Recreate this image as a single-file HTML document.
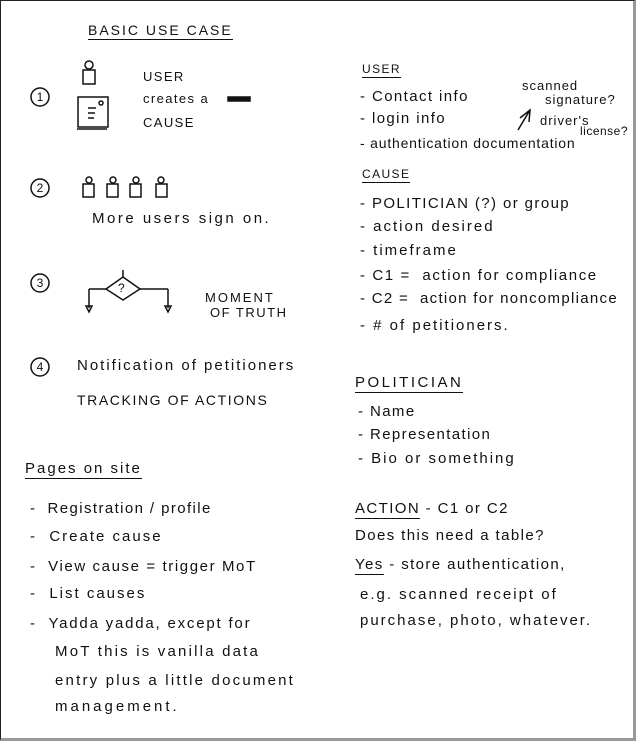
<!DOCTYPE html>
<html><head><meta charset="utf-8"><style>
body{margin:0;width:640px;height:745px;background:#fff;position:relative;overflow:hidden;font-family:"Liberation Sans",sans-serif;color:#111}
.frame{position:absolute;left:0;top:0;width:636px;height:741px;border:1px solid #222;border-right:3px solid #999;border-bottom:3px solid #999;box-sizing:border-box}
.t{position:absolute;font-size:15px;white-space:nowrap;letter-spacing:1.4px}
.u{border-bottom:1.5px solid #111;padding-bottom:1px}
.n{position:absolute;font-size:12px;width:18px;text-align:center}
svg{position:absolute;left:0;top:0}
</style></head><body>
<div class="frame"></div>
<svg width="640" height="745" fill="none" stroke="#111" stroke-width="1.5">
<circle cx="40" cy="97" r="9"/><circle cx="40" cy="188" r="9"/><circle cx="40" cy="283" r="9"/><circle cx="40" cy="367" r="9"/>
<circle cx="89" cy="65" r="4"/><rect x="83" y="70" width="12" height="14"/>
<rect x="78" y="97" width="30" height="30"/><line x1="77" y1="129" x2="107" y2="129"/>
<circle cx="101" cy="103" r="2"/><line x1="88" y1="108" x2="96" y2="108"/><line x1="88" y1="113" x2="95" y2="113"/><line x1="88" y1="118" x2="94" y2="118"/>
<circle cx="89" cy="180" r="3"/><rect x="83" y="184" width="11" height="13"/>
<circle cx="113" cy="180" r="3"/><rect x="107" y="184" width="11" height="13"/>
<circle cx="136" cy="180" r="3"/><rect x="130" y="184" width="11" height="13"/>
<circle cx="161" cy="180" r="3"/><rect x="156" y="184" width="11" height="13"/>
<polygon points="123,277 140,289 123,300 106,289"/><line x1="123" y1="270" x2="123" y2="277"/>
<line x1="106" y1="289" x2="89" y2="289"/><line x1="89" y1="289" x2="89" y2="308"/>
<line x1="140" y1="289" x2="168" y2="289"/><line x1="168" y1="289" x2="168" y2="308"/>
<polygon points="86,306 92,306 89,312"/><polygon points="165,306 171,306 168,312"/>
<line x1="518" y1="130" x2="530" y2="110"/><polyline points="520,118 530,110 529,122"/>
<rect x="228" y="97" width="22" height="4" fill="#111"/>
</svg>
<div class="n" style="left:31px;top:90px">1</div>
<div class="n" style="left:31px;top:181px">2</div>
<div class="n" style="left:31px;top:276px">3</div>
<div class="n" style="left:31px;top:360px">4</div>
<div class="t" style="left:118px;top:281px;font-size:12px;letter-spacing:0">?</div>
<div class="t u" style="left:88px;top:22px;font-size:14px;letter-spacing:2px">BASIC USE CASE</div>
<div class="t" style="left:143px;top:69px;font-size:13px">USER</div>
<div class="t" style="left:143px;top:91px;font-size:13px">creates a</div>
<div class="t" style="left:143px;top:115px;font-size:13px">CAUSE</div>
<div class="t" style="left:92px;top:210px;letter-spacing:2.5px">More users sign on.</div>
<div class="t" style="left:205px;top:290px;font-size:13px;letter-spacing:2px">MOMENT</div>
<div class="t" style="left:210px;top:305px;font-size:13px;letter-spacing:1.5px">OF TRUTH</div>
<div class="t" style="left:77px;top:357px;letter-spacing:2px">Notification of petitioners</div>
<div class="t" style="left:77px;top:392px;font-size:14px;letter-spacing:1.6px">TRACKING OF ACTIONS</div>
<div class="t u" style="left:25px;top:460px;letter-spacing:2px">Pages on site</div>
<div class="t" style="left:30px;top:500px">-&nbsp; Registration / profile</div>
<div class="t" style="left:30px;top:528px;letter-spacing:2px">-&nbsp; Create cause</div>
<div class="t" style="left:30px;top:558px;letter-spacing:1.6px">-&nbsp; View cause = trigger MoT</div>
<div class="t" style="left:30px;top:585px;letter-spacing:2px">-&nbsp; List causes</div>
<div class="t" style="left:30px;top:615px;letter-spacing:1.8px">-&nbsp; Yadda yadda, except for</div>
<div class="t" style="left:55px;top:643px;letter-spacing:2.2px">MoT this is vanilla data</div>
<div class="t" style="left:55px;top:672px;letter-spacing:2.2px">entry plus a little document</div>
<div class="t" style="left:55px;top:698px;letter-spacing:3px">management.</div>
<div class="t u" style="left:362px;top:62px;font-size:12px">USER</div>
<div class="t" style="left:360px;top:88px">- Contact info</div>
<div class="t" style="left:360px;top:110px">- login info</div>
<div class="t" style="left:360px;top:135px;font-size:14px;letter-spacing:0.8px">- authentication documentation</div>
<div class="t" style="left:522px;top:78px;font-size:13px;letter-spacing:1px">scanned</div>
<div class="t" style="left:545px;top:92px;font-size:13px;letter-spacing:1px">signature?</div>
<div class="t" style="left:540px;top:113px;font-size:13px;letter-spacing:1px">driver's</div>
<div class="t" style="left:580px;top:124px;font-size:12px;letter-spacing:0.5px">license?</div>
<div class="t u" style="left:362px;top:167px;font-size:12px">CAUSE</div>
<div class="t" style="left:360px;top:195px">- POLITICIAN (?) or group</div>
<div class="t" style="left:360px;top:218px;letter-spacing:2px">- action desired</div>
<div class="t" style="left:360px;top:242px;letter-spacing:2px">- timeframe</div>
<div class="t" style="left:360px;top:267px;letter-spacing:1.6px">- C1 =&nbsp; action for compliance</div>
<div class="t" style="left:360px;top:290px;letter-spacing:1.3px">- C2 =&nbsp; action for noncompliance</div>
<div class="t" style="left:360px;top:317px;letter-spacing:2px">- # of petitioners.</div>
<div class="t u" style="left:355px;top:374px;letter-spacing:2.5px">POLITICIAN</div>
<div class="t" style="left:358px;top:403px">- Name</div>
<div class="t" style="left:358px;top:426px">- Representation</div>
<div class="t" style="left:358px;top:450px;letter-spacing:2px">- Bio or something</div>
<div class="t" style="left:355px;top:500px"><span class="u">ACTION</span> - C1 or C2</div>
<div class="t" style="left:355px;top:527px">Does this need a table?</div>
<div class="t" style="left:355px;top:556px"><span class="u">Yes</span> - store authentication,</div>
<div class="t" style="left:360px;top:586px;letter-spacing:2px">e.g. scanned receipt of</div>
<div class="t" style="left:360px;top:612px;letter-spacing:2px">purchase, photo, whatever.</div>
</body></html>
